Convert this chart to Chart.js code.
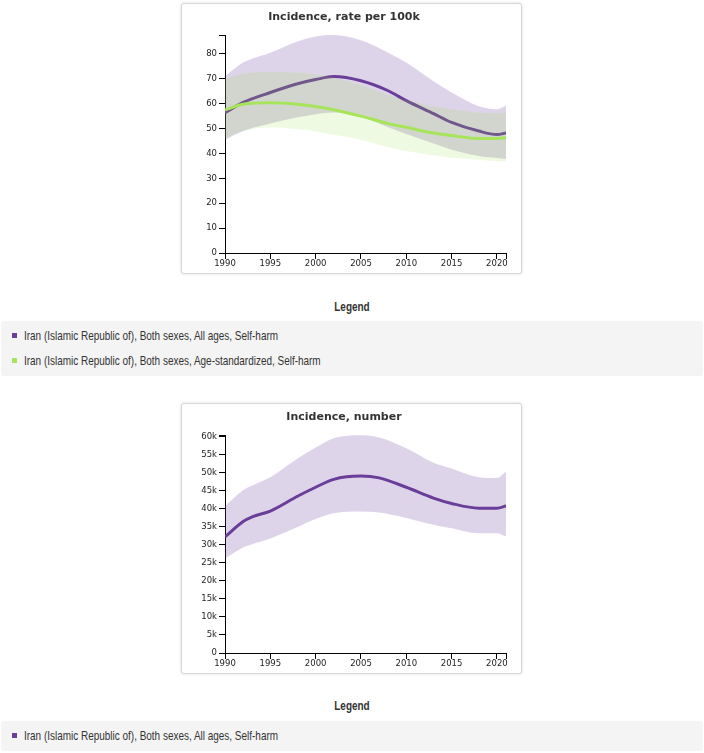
<!DOCTYPE html>
<html>
<head>
<meta charset="utf-8">
<script src="https://cdn.jsdelivr.net/npm/chart.js@4"></script>
<style>
  body { margin: 0; background: #fff; width: 704px; height: 753px; position: relative; overflow: hidden; }
  .card { position: absolute; left: 181px; width: 339px; height: 269px; border: 1px solid #d6d6d6; border-radius: 3px; box-shadow: 0 0 3px rgba(0,0,0,0.15); background: #fff; }
  .card canvas { display: block; }
  .legend-title { position: absolute; left: 0; width: 704px; text-align: center; font: bold 13px "Liberation Sans", sans-serif; color: #333; transform: scaleX(0.766); transform-origin: 352px 0; }
  .legend-box { position: absolute; left: 1px; width: 702px; background: #f4f4f4; border-radius: 3px; }
  .item { position: absolute; left: 11px; font: 13px "Liberation Sans", sans-serif; color: #333; white-space: nowrap; line-height: 15px; }
  .item i { display: inline-block; width: 5px; height: 5px; margin-right: 7px; vertical-align: 2px; }
  .item span { display: inline-block; transform: scaleX(0.766); transform-origin: 0 0; }
</style>
</head>
<body>

<div class="card" style="top:3px"><canvas id="rateChart" width="339" height="269"></canvas></div>
<div class="legend-title" style="top:299px">Legend</div>
<div class="legend-box" style="top:321px;height:55px">
  <div class="item" style="top:7px"><i style="background:#6a3d9a"></i><span>Iran (Islamic Republic of), Both sexes, All ages, Self-harm</span></div>
  <div class="item" style="top:32px"><i style="background:#a6e45a"></i><span>Iran (Islamic Republic of), Both sexes, Age-standardized, Self-harm</span></div>
</div>

<div class="card" style="top:403px"><canvas id="numberChart" width="339" height="269"></canvas></div>
<div class="legend-title" style="top:698px">Legend</div>
<div class="legend-box" style="top:721px;height:30px">
  <div class="item" style="top:7px"><i style="background:#6a3d9a"></i><span>Iran (Islamic Republic of), Both sexes, All ages, Self-harm</span></div>
</div>

<script>
/* ----------- Data ----------- */
const xTicks = [1990, 1995, 2000, 2005, 2010, 2015, 2020];
const xMin = 1990, xMax = 2021;

// Incidence, rate per 100k
const rateYears      = [1990, 1992, 1995, 1998, 2000, 2002, 2005, 2008, 2010, 2013, 2015, 2018, 2020, 2021];
const rateAll        = [56.4, 60.5, 64.5, 68.0, 69.7, 70.9, 69.2, 65.2, 61.2, 56.0, 52.5, 49.0, 47.6, 48.2];
const rateAllUpper   = [71.0, 76.5, 80.5, 85.0, 87.0, 87.6, 85.5, 80.5, 76.5, 69.0, 64.5, 59.0, 57.8, 59.2];
const rateAllLower   = [45.5, 49.0, 52.0, 54.5, 55.8, 56.5, 55.0, 50.5, 47.8, 44.0, 41.5, 39.0, 38.2, 37.8];
const rateStd        = [57.5, 59.8, 60.4, 59.8, 58.9, 57.6, 55.0, 52.0, 50.5, 48.2, 47.2, 46.0, 46.0, 46.3];
const rateStdUpper   = [70.0, 72.0, 72.8, 72.5, 71.8, 70.5, 67.5, 63.5, 61.5, 59.0, 57.8, 56.5, 56.3, 56.5];
const rateStdLower   = [46.0, 49.0, 50.4, 49.8, 48.8, 47.5, 45.5, 42.5, 41.0, 39.3, 38.3, 37.5, 37.0, 36.8];
const rateYTicks     = [0, 10, 20, 30, 40, 50, 60, 70, 80];
const rateYMax       = 87.6;

// Incidence, number
const numYears       = [1990, 1992, 1993, 1995, 1998, 2000, 2002, 2005, 2007, 2010, 2013, 2015, 2018, 2020, 2021];
const numAll         = [32200, 36500, 37800, 39400, 43500, 46000, 48200, 49100, 48600, 46000, 43000, 41500, 40200, 40200, 40800];
const numAllUpper    = [40800, 45200, 46500, 48800, 54000, 57000, 59600, 60400, 59800, 56800, 52800, 51200, 48800, 48600, 50400];
const numAllLower    = [26200, 29300, 30200, 31800, 35000, 37200, 38800, 39300, 39000, 37500, 35600, 34600, 33200, 33200, 32300];
const numYTicks      = [0, 5000, 10000, 15000, 20000, 25000, 30000, 35000, 40000, 45000, 50000, 55000, 60000];
const numYMax        = 60500;

/* ----------- Helpers ----------- */
const PURPLE = '#6a3d9a';
const GREEN = '#a6e45a';
const PURPLE_BAND = 'rgba(106,61,154,0.22)';
const GREEN_BAND = 'rgba(150,225,70,0.16)';

function pts(years, vals){
    return years.map((y, i) => ({x: y, y: vals[i]}));
}

function lineSet(years, vals, color){
    return { data: pts(years, vals), borderColor: color, borderWidth: 3, pointRadius: 0,
             fill: false, cubicInterpolationMode: 'monotone' };
}

function bandSet(years, vals, color, fill){
    return { data: pts(years, vals), borderWidth: 0, borderColor: 'rgba(0,0,0,0)', pointRadius: 0,
             backgroundColor: color, fill: fill, cubicInterpolationMode: 'monotone' };
}

function axisStyle(){
    return {
        grid: { display: true, drawOnChartArea: false, drawTicks: true, tickLength: 6, color: '#000' },
        border: { display: true, color: '#000', width: 1 }
    };
}

function createChart(ctx, title, datasets, yTicks, yMax, yFmt){
    const tickFont = { family: 'DejaVu Sans', size: 8.5 };
    return new Chart(ctx, {
        type: 'line',
        data: { datasets: datasets },
        options: {
            responsive: false,
            animation: false,
            devicePixelRatio: 1,
            layout: { padding: { left: 0, right: 15, top: 0, bottom: 0 } },
            plugins: {
                legend: { display: false },
                tooltip: { enabled: false },
                title: { display: true, text: title, color: '#333',
                         font: { family: 'DejaVu Sans', size: 11, weight: 'bold' },
                         padding: { top: 7, bottom: 10.8 } }
            },
            scales: {
                x: Object.assign(axisStyle(), {
                    type: 'linear', min: xMin, max: xMax,
                    afterBuildTicks: s => { s.ticks = xTicks.concat([xMax]).map(v => ({value: v})); },
                    afterFit: s => { s.height = 20; },
                    ticks: { font: tickFont, color: '#222', padding: 0, maxRotation: 0,
                             callback: v => xTicks.includes(v) ? String(v) : '' }
                }),
                y: Object.assign(axisStyle(), {
                    type: 'linear', min: 0, max: yMax,
                    afterBuildTicks: s => { s.ticks = yTicks.concat([yMax]).map(v => ({value: v})); },
                    afterFit: s => { s.width = 43; },
                    ticks: { font: tickFont, color: '#222', padding: 2,
                             callback: v => yTicks.includes(v) ? yFmt(v) : '' }
                })
            }
        }
    });
}

/* ----------- Rate chart ----------- */
// index 0 is drawn last: green band sits over the purple line, as in the source
createChart(document.getElementById('rateChart').getContext('2d'), 'Incidence, rate per 100k', [
    lineSet(rateYears, rateStd, GREEN),
    bandSet(rateYears, rateStdUpper, GREEN_BAND, '+1'),
    bandSet(rateYears, rateStdLower, GREEN_BAND, false),
    lineSet(rateYears, rateAll, PURPLE),
    bandSet(rateYears, rateAllUpper, PURPLE_BAND, '+1'),
    bandSet(rateYears, rateAllLower, PURPLE_BAND, false)
], rateYTicks, rateYMax, v => String(v));

/* ----------- Number chart ----------- */
createChart(document.getElementById('numberChart').getContext('2d'), 'Incidence, number', [
    lineSet(numYears, numAll, PURPLE),
    bandSet(numYears, numAllUpper, PURPLE_BAND, '+1'),
    bandSet(numYears, numAllLower, PURPLE_BAND, false)
], numYTicks, numYMax, v => v === 0 ? '0' : (v / 1000) + 'k');
</script>
</body>
</html>
